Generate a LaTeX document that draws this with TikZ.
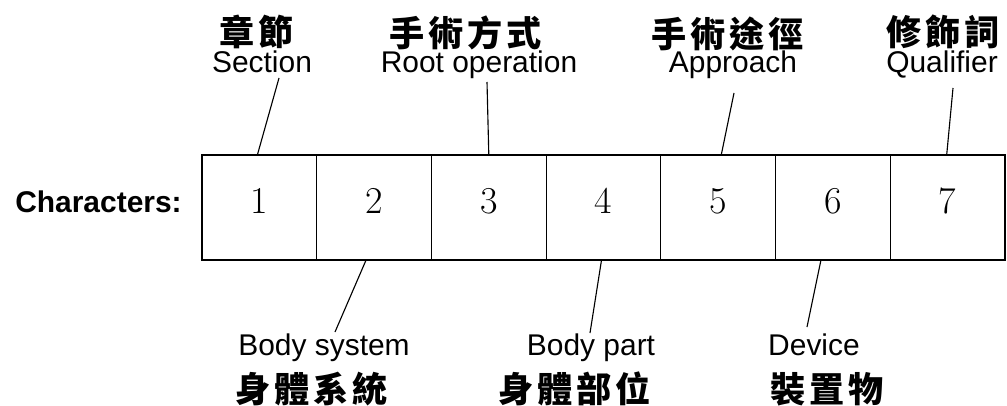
\documentclass[tikz,border=0pt]{standalone}
\usepackage{fontspec}
\setmainfont{Latin Modern Roman}
\setsansfont{Liberation Sans}
\newfontfamily\cjk[LetterSpace=11]{Noto Sans CJK TC}
\usepackage{tikz}
\usetikzlibrary{positioning}

\begin{document}
\begin{tikzpicture}
  [
    Cell/.style={rectangle, draw=black, line width=0.8pt, inner sep=0pt, outer sep=0pt,
      minimum width=2.868cm, text height=1.45cm, text depth=1.175cm,
      font=\fontsize{27}{27}\selectfont},
    Eng/.style={inner sep=0pt, anchor=base, font=\sffamily\fontsize{21.3}{21.3}\selectfont},
    Chi/.style={inner sep=0pt, font=\cjk\bfseries\fontsize{25}{25}\selectfont},
    Lead/.style={draw=black, line width=0.8pt}
  ]
  \useasboundingbox (0,0) rectangle (25.175,10.125);

  % Cells
  \node[Cell] (c1) at(6.484, 4.9375) {1};
  \node[Cell] (c2) at(9.352, 4.9375) {2};
  \node[Cell] (c3) at(12.22, 4.9375) {3};
  \node[Cell] (c4) at(15.088, 4.9375) {4};
  \node[Cell] (c5) at(17.956, 4.9375) {5};
  \node[Cell] (c6) at(20.824, 4.9375) {6};
  \node[Cell] (c7) at(23.692, 4.9375) {7};
  \node[inner sep=0pt, anchor=base east, font=\sffamily\bfseries\fontsize{21.3}{21.3}\selectfont]
    (chars) at(4.55, 4.825) {Characters:};

  % Labels above
  \node[Eng] (sec) at(6.55, 8.3) {Section};
  \node[Eng] (root) at(11.975, 8.3) {Root operation};
  \node[Eng] (appr) at(18.325, 8.3) {Approach};
  \node[Eng] (qual) at(23.55, 8.3) {Qualifier};
  \node[Chi] (secC) at(6.425, 9.33) {章節};
  \node[Chi] (rootC) at(11.65, 9.3) {手術方式};
  \node[Chi] (apprC) at(18.2, 9.28) {手術途徑};
  \node[Chi] (qualC) at(23.575, 9.32) {修飾詞};

  % Labels below
  \node[Eng] (bsys) at(8.1, 1.25) {Body system};
  \node[Eng] (bpart) at(14.775, 1.25) {Body part};
  \node[Eng] (dev) at(20.35, 1.25) {Device};
  \node[Chi] (bsysC) at(7.8, 0.4) {身體系統};
  \node[Chi] (bpartC) at(14.375, 0.4) {身體部位};
  \node[Chi] (devC) at(20.675, 0.4) {裝置物};

  % Lines
  \path [Lead] ([shift={(0.425,-0.125)}]sec.base) -- ([xshift=-0.05cm]c1.north);
  \path [Lead] ([shift={(0.2,-0.225)}]root.base) -- (c3.north);
  \path [Lead] ([shift={(0.025,-0.5)}]appr.base) -- ([xshift=0.075cm]c5.north);
  \path [Lead] ([shift={(0.275,-0.375)}]qual.base) -- ([xshift=-0.025cm]c7.north);
  \path [Lead] ([shift={(0.275,0.575)}]bsys.base) -- ([xshift=-0.2cm]c2.south);
  \path [Lead] ([shift={(-0.025,0.55)}]bpart.base) -- ([xshift=-0.05cm]c4.south);
  \path [Lead] ([shift={(-0.175,0.7)}]dev.base) -- ([xshift=-0.3cm]c6.south);

\end{tikzpicture}
\end{document}
